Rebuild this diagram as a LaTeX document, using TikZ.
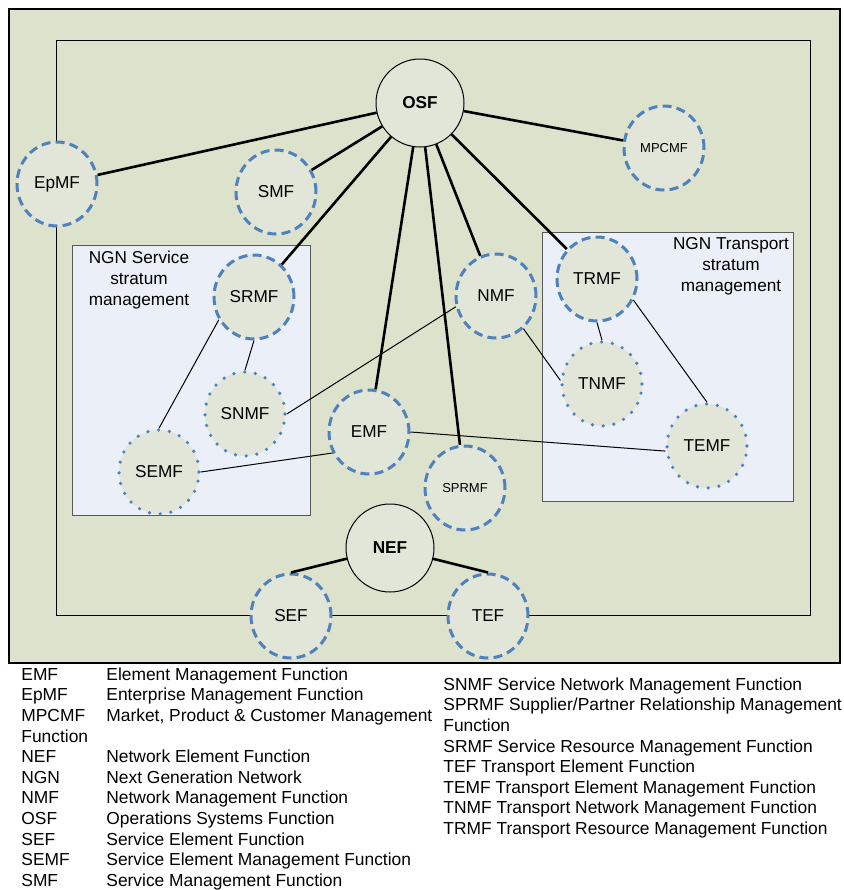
\documentclass[tikz,border=0pt]{standalone}
\usepackage{fontspec}
\setmainfont{Liberation Sans}
\usepackage{xcolor}
\usepackage{tikz}
\usetikzlibrary{shapes.geometric,positioning}

\definecolor{panelgreen}{HTML}{DDE2CD}
\definecolor{nodegreen}{HTML}{E1E6D8}
\definecolor{stratumblue}{HTML}{EBF0F8}
\definecolor{fnblue}{HTML}{4F81BD}

\begin{document}
\begin{tikzpicture}[x=0.5pt,y=-0.5pt,
  fnbase/.style={ellipse, fill=nodegreen, inner sep=0pt, minimum width=40pt, minimum height=42pt, font=\fontsize{8.6}{10}\selectfont},
  dashfn/.style={fnbase, draw=fnblue, line width=1.5pt, dash pattern=on 4.5pt off 2.6pt},
  dotfn/.style={fnbase, draw=fnblue, line width=1.8pt, line cap=round, dash pattern=on 0pt off 5.4pt},
  mainfn/.style={fnbase, draw, line width=0.5pt, font=\fontsize{8.6}{10}\selectfont\bfseries, minimum width=44pt, minimum height=44pt},
  smalltext/.style={font=\fontsize{6.5}{8}\selectfont},
  stratum/.style={draw=black!65, fill=stratumblue, line width=0.5pt},
  stratumlabel/.style={align=center, inner sep=0pt, font=\fontsize{8.6}{10.5}\selectfont},
  link/.style={line width=1.3pt},
  thinlink/.style={line width=0.5pt},
  legend/.style={inner sep=0pt, anchor=north west, font=\fontsize{8.7}{10.3}\selectfont}
]
\useasboundingbox (0,0) rectangle (844,890);

% Panels
\draw[fill=panelgreen, line width=0.6pt] (9,9) rectangle (840,663);
\draw[line width=0.5pt] (56,40) rectangle (810,615);

% Stratum boxes
\draw[stratum] (72,245) rectangle (310,515);
\draw[stratum] (542,232) rectangle (793,501);
\node[stratumlabel] (svclabel) at (139,280) {NGN Service\\stratum\\management};
\node[stratumlabel] (trplabel) at (731,266) {NGN Transport\\stratum\\management};

% Top level
\node[mainfn] (osf) at (420,103) {OSF};
\node[dashfn] (epmf) at (57,184) {EpMF};
\node[dashfn] (smf) at (276,192) {SMF};
\node[dashfn, smalltext] (mpcmf) at (664,148) {MPCMF};

% Service stratum
\node[dashfn] (srmf) at (254,297) {SRMF};
\node[dotfn] (snmf) at (245,414) {SNMF};
\node[dotfn] (semf) at (159,472) {SEMF};

% Middle
\node[dashfn] (nmf) at (496,296) {NMF};
\node[dashfn] (emf) at (369,432) {EMF};
\node[dashfn, smalltext] (sprmf) at (465,488) {SPRMF};

% Transport stratum
\node[dashfn] (trmf) at (597,279) {TRMF};
\node[dotfn] (tnmf) at (602,384) {TNMF};
\node[dotfn] (temf) at (707,446) {TEMF};

% Element layer
\node[mainfn] (nef) at (390,548) {NEF};
\node[dashfn] (sef) at (291,616) {SEF};
\node[dashfn] (tef) at (488,616) {TEF};

% Connections
\draw[link] (osf) -- (epmf);
\draw[link] (osf) -- (smf);
\draw[link] (osf) -- (mpcmf);
\draw[link] (osf) -- (srmf);
\draw[link] (osf) -- (emf);
\draw[link] (osf) -- (sprmf);
\draw[link] (osf) -- (nmf);
\draw[link] (osf) -- (trmf);
\draw[link] (nef) -- (sef.north);
\draw[link] (nef) -- (tef.north);
\draw[thinlink] (srmf.213) -- (semf.north);
\draw[thinlink] (srmf.south) -- (snmf.north);
\draw[thinlink] (nmf.195) -- (snmf.east);
\draw[thinlink] (emf.210) -- (semf.east);
\draw[thinlink] (emf.east) -- (temf.187);
\draw[thinlink] (nmf.-50) -- (tnmf.175);
\draw[thinlink] (trmf.south) -- (tnmf.north);
\draw[thinlink] (trmf.-30) -- (temf.north);

% Legend
\node[legend] (legleft) at (21,665.5) {\begin{tabular}{@{}p{42.5pt}@{}l@{}}
EMF & Element Management Function\\
EpMF & Enterprise Management Function\\
MPCMF & Market, Product \& Customer Management\\
\multicolumn{2}{@{}l@{}}{Function}\\
NEF & Network Element Function\\
NGN & Next Generation Network\\
NMF & Network Management Function\\
OSF & Operations Systems Function\\
SEF & Service Element Function\\
SEMF & Service Element Management Function\\
SMF & Service Management Function
\end{tabular}};
\node[legend] (legright) at (443,675.5) {\begin{tabular}{@{}l@{}}
SNMF Service Network Management Function\\
SPRMF Supplier/Partner Relationship Management\\
Function\\
SRMF Service Resource Management Function\\
TEF Transport Element Function\\
TEMF Transport Element Management Function\\
TNMF Transport Network Management Function\\
TRMF Transport Resource Management Function
\end{tabular}};
\end{tikzpicture}
\end{document}
